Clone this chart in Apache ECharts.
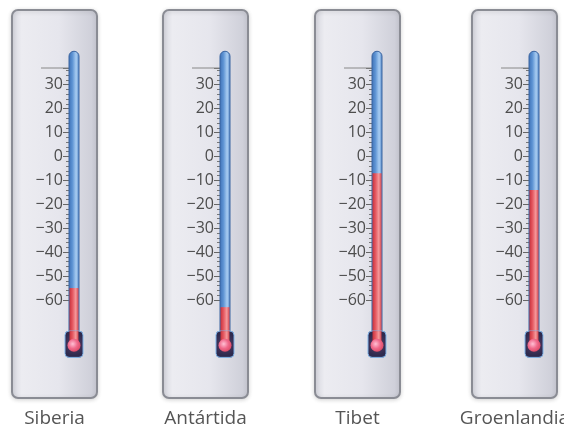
<!DOCTYPE html>
<html>
<head>
<meta charset="utf-8">
<script src="https://cdn.jsdelivr.net/npm/echarts@6/dist/echarts.min.js"></script>
<style>html,body{margin:0;padding:0;background:#fff;}#c{width:564px;height:436px;}</style>
</head>
<body>
<div id="c"></div>
<script>
// ---- data ----
const places = ['Siberia', 'Antártida', 'Tibet', 'Groenlandia'];
const temperatures = [-55, -63, -7, -14];
const tickValues = [30, 20, 10, 0, -10, -20, -30, -40, -50, -60];
const scaleMin = -60;
const scaleMax = 37;
const tubeTopValue = 44;
const bulbTopValue = -73;
const bulbBottomValue = -84;

// ---- layout ----
const tubeLeft = [69, 220, 372, 529];
const tubeW = 10;
const gridTop = 68, gridH = 232;

const chart = echarts.init(document.getElementById('c'), null, {renderer: 'canvas'});

const grids = [], xAxes = [], yAxes = [], series = [], gfx = [];
const labelSet = new Set(tickValues);
places.forEach((name, i) => {
  grids.push({left: tubeLeft[i], top: gridTop, width: tubeW, height: gridH});
  xAxes.push({
    type: 'category', gridIndex: i, data: [name],
    axisLine: {show: false}, axisTick: {show: false}, splitLine: {show: false},
    axisLabel: {show: false}
  });
  yAxes.push({
    type: 'value', gridIndex: i, min: scaleMin, max: scaleMax, interval: 10,
    axisLine: {show: false},
    splitLine: {show: false},
    axisTick: {show: true, length: 6, lineStyle: {color: '#666', width: 1}},
    minorTick: {show: true, splitNumber: 5, length: 3, lineStyle: {color: '#777', width: 1}},
    axisLabel: {
      margin: 6, color: '#4d4d4d', fontSize: 16, fontFamily: 'Open Sans',
      formatter: v => labelSet.has(v) ? (v < 0 ? '\u2212' + (-v) : String(v)) : ''
    }
  });
  series.push({
    type: 'custom', xAxisIndex: i, yAxisIndex: i, clip: false, z: 5,
    data: [[0, temperatures[i]]],
    renderItem: (params, api) => {
      const v = api.value(1);
      const c = api.coord([0, v]);
      const cx = c[0];
      const yVal = c[1];
      const yTop = api.coord([0, tubeTopValue])[1];
      const yScaleTop = api.coord([0, scaleMax])[1];
      const yBT = api.coord([0, bulbTopValue])[1];
      const yBB = api.coord([0, bulbBottomValue])[1];
      const w = tubeW;
      const blue = new echarts.graphic.LinearGradient(0, 0, 1, 0, [
        {offset: 0, color: '#3d6fb4'}, {offset: 0.35, color: '#5d93d3'},
        {offset: 0.7, color: '#a9cdf2'}, {offset: 1, color: '#4b7fc2'}]);
      const red = new echarts.graphic.LinearGradient(0, 0, 1, 0, [
        {offset: 0, color: '#c8323c'}, {offset: 0.35, color: '#e65a62'},
        {offset: 0.7, color: '#f59a9c'}, {offset: 1, color: '#d2424a'}]);
      const bulbFill = new echarts.graphic.RadialGradient(0.5, 0.5, 0.6, [
        {offset: 0, color: '#5a3e66'}, {offset: 1, color: '#2e2a4e'}]);
      const pink = new echarts.graphic.RadialGradient(0.4, 0.4, 0.7, [
        {offset: 0, color: '#ffc0d4'}, {offset: 0.5, color: '#f06a8c'}, {offset: 1, color: '#d8435e'}]);
      return {
        type: 'group',
        children: [
          {type: 'line', shape: {x1: cx - 33, y1: yScaleTop, x2: cx - w / 2, y2: yScaleTop},
           style: {stroke: '#888', lineWidth: 1}},
          {type: 'rect', shape: {x: cx - w / 2, y: yTop, width: w, height: yBT - yTop + 4, r: [5, 5, 0, 0]},
           style: {fill: blue, stroke: '#3a64a0', lineWidth: 1}},
          {type: 'rect', shape: {x: cx - w / 2 + 0.5, y: yVal, width: w - 1, height: yBT - yVal + 4},
           style: {fill: red}},
          {type: 'rect', shape: {x: cx - 9, y: yBT, width: 18, height: yBB - yBT, r: 4},
           style: {fill: bulbFill, stroke: '#7fb3e8', lineWidth: 1}},
          {type: 'rect', shape: {x: cx - w / 2 + 0.5, y: yBT, width: w - 1, height: (yBB - yBT) / 2},
           style: {fill: red}},
          {type: 'circle', shape: {cx: cx, cy: (yBT + yBB) / 2 + 1, r: 6.5},
           style: {fill: pink}}
        ]
      };
    }
  });
  const cardLeft = tubeLeft[i] - 57;
  gfx.push({
    type: 'rect', z: -10,
    shape: {x: cardLeft, y: 10, width: 85, height: 388, r: 6},
    style: {
      fill: new echarts.graphic.LinearGradient(0, 0, 1, 0, [
        {offset: 0, color: '#d3d4dc'}, {offset: 0.12, color: '#ececf1'},
        {offset: 0.55, color: '#e6e6ed'}, {offset: 1, color: '#cbccd6'}]),
      stroke: '#8a8c94', lineWidth: 2,
      shadowBlur: 4, shadowColor: 'rgba(0,0,0,0.15)', shadowOffsetY: 1
    }
  });
  gfx.push({
    type: 'text', z: 10,
    x: cardLeft + 42.5, y: 419,
    style: {
      text: name, fill: '#555', font: '19px "Open Sans"',
      align: 'center', verticalAlign: 'middle'
    }
  });
});

chart.setOption({
  backgroundColor: '#ffffff',
  animation: false,
  graphic: {elements: gfx},
  grid: grids,
  xAxis: xAxes,
  yAxis: yAxes,
  series: series
});
</script>
</body>
</html>
